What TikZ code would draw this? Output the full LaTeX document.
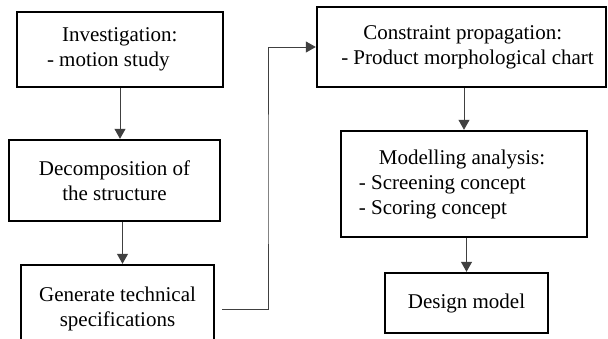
\documentclass[tikz,border=0pt]{standalone}
\usepackage{fontspec}
\setmainfont{Liberation Serif}
\usetikzlibrary{arrows.meta}
\begin{document}
\begin{tikzpicture}[x=0.5pt, y=-0.5pt, font=\rmfamily\fontsize{10.5}{12.5}\selectfont]
\tikzstyle{box_style} = [draw=black, line width=1.2pt, inner sep=0pt, align=center]
\tikzstyle{edge_style} = [draw=black!75, line width=0.5pt, -{Triangle[length=5pt,width=5.5pt]}]

\useasboundingbox (0,0) rectangle (608,338);
\clip (0,0) rectangle (608,338);

% left column
\node[box_style, minimum width=103pt, minimum height=37.5pt, align=left] (inv) at (120,49.5) {\hspace*{7.5pt}Investigation:\hspace*{7.75pt}\\- motion study};
\node[box_style, minimum width=105.5pt, minimum height=40.5pt] (dec) at (114.5,180.5) {Decomposition of\\the structure};
\node[box_style, minimum width=96.5pt, minimum height=44pt] (gen) at (117.5,309) {Generate technical\\specifications};

% right column
\node[box_style, minimum width=144.5pt, minimum height=40pt, align=left] (cons) at (461.5,47) {\hspace*{17pt}Constraint propagation:\\\hspace*{6pt}- Product morphological chart};
\node[box_style, minimum width=123pt, minimum height=53pt, align=left] (mod) at (464,184) {\hspace*{10pt}Modelling analysis:\hspace*{12pt}\\- Screening concept\\- Scoring concept};
\node[box_style, minimum width=81.5pt, minimum height=30pt] (des) at (466.5,303) {Design model};

\coordinate (turn) at (268,180);

\draw[edge_style] (inv.south) -- (inv.south |- dec.north);
\draw[edge_style] ([xshift=4pt]dec.south) -- ([xshift=4pt]dec.south |- gen.north);
\draw[edge_style] ([xshift=3.5pt]gen.east) -| (turn) |- (cons.west);
\draw[edge_style] (mod.north |- cons.south) -- (mod.north);
\draw[edge_style] (des.north |- mod.south) -- (des.north);
\end{tikzpicture}
\end{document}
